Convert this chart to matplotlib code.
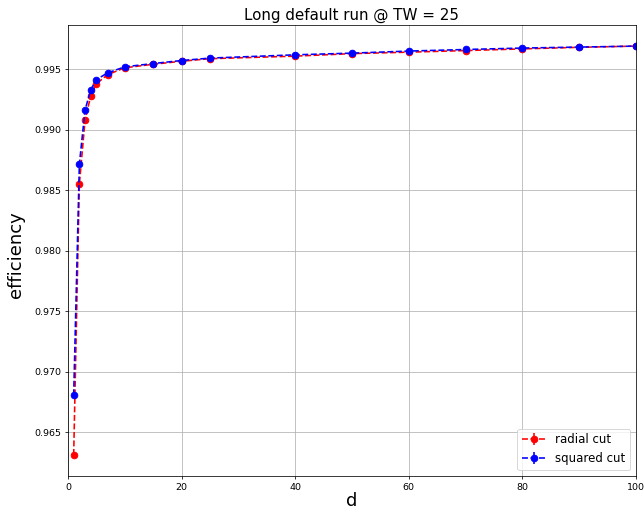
import matplotlib
matplotlib.use("Agg")
import matplotlib.pyplot as plt
import numpy as np

d = [1, 2, 3, 4, 5, 7, 10, 15, 20, 25, 40, 50, 60, 70, 80, 90, 100]
eff_radial = [0.96313, 0.98550, 0.99078, 0.99279, 0.99379, 0.99455, 0.99511,
              0.99540, 0.99565, 0.99586, 0.99607, 0.99628, 0.99640, 0.99653,
              0.99667, 0.99680, 0.99690]
eff_squared = [0.96806, 0.98715, 0.99161, 0.99329, 0.99414, 0.99469, 0.99519,
               0.99546, 0.99571, 0.99591, 0.99618, 0.99632, 0.99649, 0.99662,
               0.99674, 0.99682, 0.99690]
err_radial = [0.00005] * len(d)
err_squared = [0.00005] * len(d)

DPI = 68
fig = plt.figure(figsize=(644/DPI, 510/DPI), dpi=DPI)
ax = fig.add_axes([68/644, 1 - 476/510, (636-68)/644, (476-25)/510])

ax.errorbar(d, eff_radial, yerr=err_radial, fmt='o--', color='red', markersize=7, lw=1.7, label='radial cut')
ax.errorbar(d, eff_squared, yerr=err_squared, fmt='o--', color='blue', markersize=7, lw=1.7, label='squared cut')
ax.set_xlim(0, 100)
ax.grid()
ax.set_title('Long default run @ TW = 25', fontsize=16)
ax.set_xlabel('d', fontsize=19)
ax.set_ylabel('efficiency', fontsize=19)
ax.xaxis.set_label_coords(0.5, -0.035)
ax.yaxis.set_label_coords(-0.0757, 0.49)
ax.tick_params(labelsize=10)
ax.legend(loc='lower right', fontsize=12.5)

fig.savefig('out.png', dpi=DPI)
